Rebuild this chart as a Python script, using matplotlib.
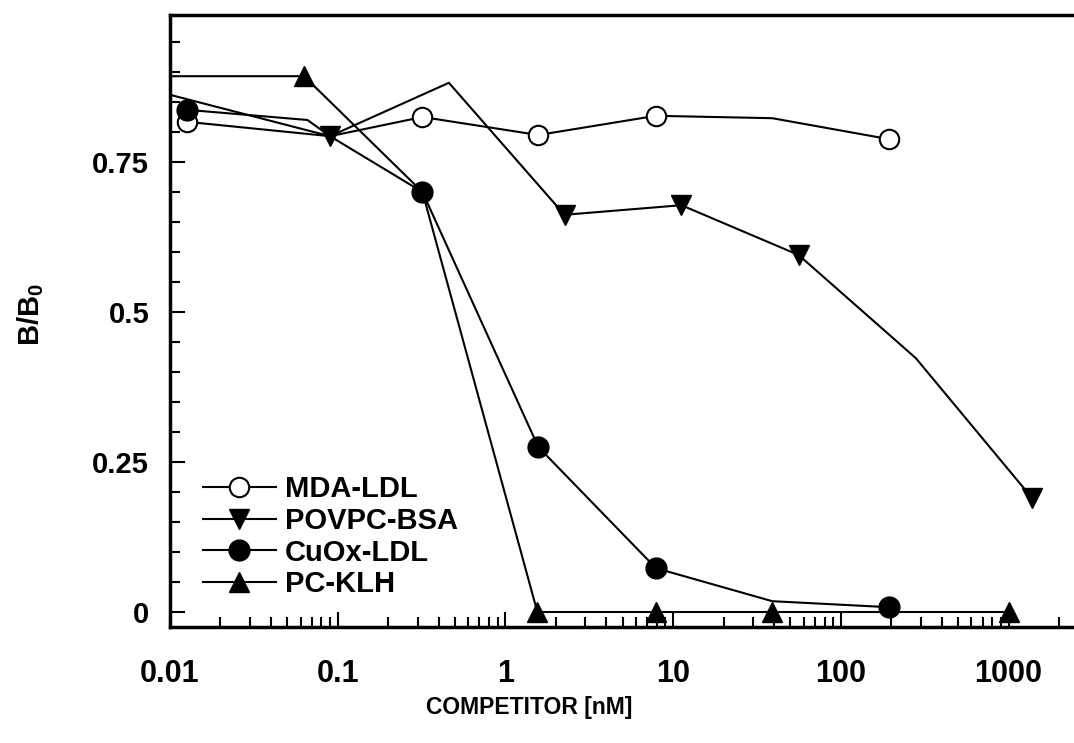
import matplotlib
matplotlib.use("Agg")
import matplotlib.pyplot as plt
from matplotlib.ticker import FixedLocator, LogLocator, NullFormatter, FuncFormatter

# values (B/B0 vs competitor concentration, nM)
mda_x = [0.0126, 0.09, 0.32, 1.57, 7.9, 39, 194]
mda_y = [0.817, 0.793, 0.825, 0.795, 0.827, 0.823, 0.788]
mda_marks = [0, 2, 3, 4, 6]

povpc_x = [0.01, 0.09, 0.46, 2.25, 11.2, 56, 280, 1380]
povpc_y = [0.862, 0.793, 0.882, 0.662, 0.678, 0.595, 0.423, 0.19]
povpc_marks = [1, 3, 4, 5, 7]

cuox_x = [0.0126, 0.066, 0.09, 0.32, 1.57, 7.9, 39, 194]
cuox_y = [0.837, 0.82, 0.793, 0.70, 0.275, 0.073, 0.018, 0.008]
cuox_marks = [0, 3, 4, 5, 7]

pcklh_x = [0.01, 0.063, 0.32, 1.55, 7.9, 39, 1000]
pcklh_y = [0.893, 0.893, 0.70, 0.0, 0.0, 0.0, 0.0]
pcklh_marks = [1, 3, 4, 5, 6]

x_ticks = [0.01, 0.1, 1, 10, 100, 1000]
y_ticks = [0, 0.25, 0.5, 0.75]

plt.rcParams["font.family"] = ["Liberation Sans", "DejaVu Sans"]
plt.rcParams["mathtext.fontset"] = "custom"
plt.rcParams["mathtext.rm"] = "Liberation Sans"
plt.rcParams["mathtext.bf"] = "Liberation Sans:bold"


def fmt_tick(val, pos):
    return "{:g}".format(val)


fig = plt.figure(figsize=(10.74, 7.43), dpi=100)
ax = fig.add_axes([170 / 1074, 1 - 627 / 743, 904 / 1074, 612 / 743])

lw = 1.5
ax.plot(mda_x, mda_y, color="black", lw=lw, marker="o", ms=14, mfc="white",
        mec="black", mew=1.5, markevery=mda_marks, label="MDA-LDL", zorder=3)
ax.plot(povpc_x, povpc_y, color="black", lw=lw, marker="v", ms=15,
        markevery=povpc_marks, label="POVPC-BSA", zorder=3)
ax.plot(cuox_x, cuox_y, color="black", lw=lw, marker="o", ms=15,
        markevery=cuox_marks, label="CuOx-LDL", zorder=3)
ax.plot(pcklh_x, pcklh_y, color="black", lw=lw, marker="^", ms=15,
        markevery=pcklh_marks, label="PC-KLH", zorder=3)

ax.set_xscale("log")
ax.set_xlim(0.01, 10 ** 3.39)
ax.set_ylim(-0.025, 0.995)

ax.xaxis.set_major_locator(FixedLocator(x_ticks))
ax.xaxis.set_major_formatter(FuncFormatter(fmt_tick))
ax.xaxis.set_minor_locator(LogLocator(base=10, subs=range(2, 10), numticks=20))
ax.xaxis.set_minor_formatter(NullFormatter())
ax.yaxis.set_major_locator(FixedLocator(y_ticks))
ax.yaxis.set_major_formatter(FuncFormatter(fmt_tick))
ax.yaxis.set_minor_locator(FixedLocator([i * 0.05 for i in range(20)]))

ax.spines["right"].set_visible(False)
for s in ["left", "top", "bottom"]:
    ax.spines[s].set_linewidth(2.5)

ax.tick_params(which="both", direction="in", top=False, right=False, width=1.5)
ax.tick_params(which="major", length=11)
ax.tick_params(which="minor", length=7)
ax.tick_params(axis="y", which="major", pad=15)
ax.tick_params(axis="x", which="major", pad=23)

for lab in ax.get_yticklabels():
    lab.set_fontsize(21)
    lab.set_fontweight("bold")
for lab in ax.get_xticklabels():
    lab.set_fontsize(22)
    lab.set_fontweight("bold")

ax.set_xlabel("COMPETITOR [nM]", fontsize=16.5, fontweight="bold")
ax.xaxis.set_label_coords(0.397, -0.113)
ax.set_ylabel(r"B/B$_{\mathbf{0}}$", fontsize=21, fontweight="bold")
ax.yaxis.set_label_coords(-0.137, 0.51)

ax.legend(loc="upper left", bbox_to_anchor=(203 / 1074, 1 - 475 / 743),
          bbox_transform=fig.transFigure, frameon=False,
          prop={"weight": "bold", "size": 21}, handlelength=2.5,
          handletextpad=0.3, labelspacing=0.13, borderpad=0,
          borderaxespad=0, numpoints=1)

fig.savefig("out.png", dpi=100)
